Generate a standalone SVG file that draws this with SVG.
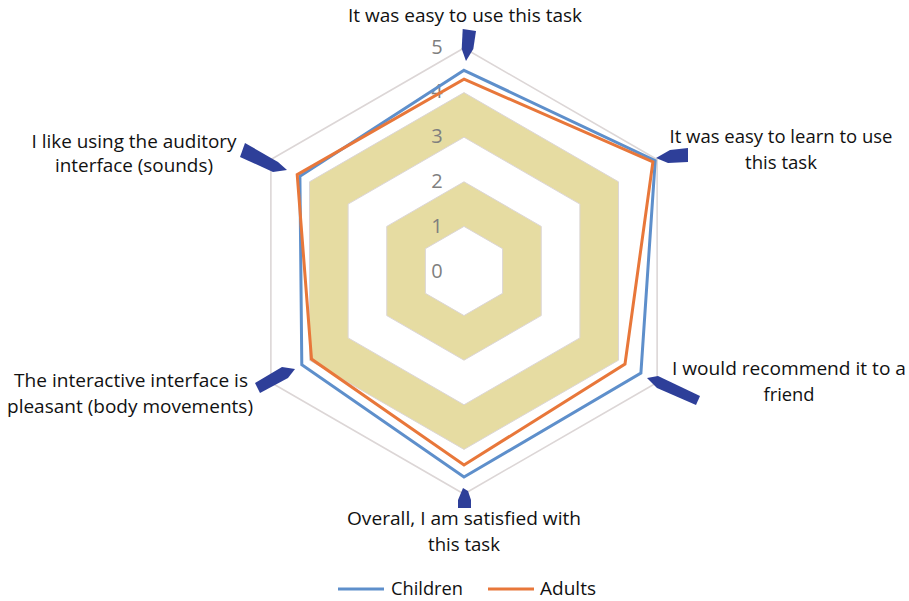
<svg xmlns="http://www.w3.org/2000/svg" width="909" height="601" viewBox="0 0 909 601">
<style>
.lbl{font-family:"Open Sans","Noto Sans","Liberation Sans",sans-serif;font-size:19px;fill:#111111;text-anchor:middle}
.num{font-family:"Open Sans","Noto Sans","Liberation Sans",sans-serif;font-size:20px;fill:#7f7f7f;text-anchor:middle}
.grid{fill:none;stroke:#dcd6d6;stroke-width:1}
.ptr{fill:#2e3f99;stroke:none}
.ser{fill:none;stroke-width:3;stroke-linejoin:miter}
</style>
<rect width="909" height="601" fill="#ffffff"/>
<g id="bands">
<path fill="#e6dca2" fill-rule="evenodd" d="M464,181.8 L541.25,226.4 L541.25,315.6 L464,360.2 L386.75,315.6 L386.75,226.4 Z M464,226.4 L502.62,248.7 L502.62,293.3 L464,315.6 L425.38,293.3 L425.38,248.7 Z"/>
<path fill="#e6dca2" fill-rule="evenodd" d="M464,92.6 L618.5,181.8 L618.5,360.2 L464,449.4 L309.5,360.2 L309.5,181.8 Z M464,137.2 L579.87,204.1 L579.87,337.9 L464,404.8 L348.13,337.9 L348.13,204.1 Z"/>
</g>
<g id="grid">
<polygon class="grid" points="464,226.4 502.62,248.7 502.62,293.3 464,315.6 425.38,293.3 425.38,248.7"/>
<polygon class="grid" points="464,181.8 541.25,226.4 541.25,315.6 464,360.2 386.75,315.6 386.75,226.4"/>
<polygon class="grid" points="464,137.2 579.87,204.1 579.87,337.9 464,404.8 348.13,337.9 348.13,204.1"/>
<polygon class="grid" points="464,92.6 618.5,181.8 618.5,360.2 464,449.4 309.5,360.2 309.5,181.8"/>
<polygon class="grid" style="stroke-width:1.6" points="464,48 657.12,159.5 657.12,382.5 464,494 270.88,382.5 270.88,159.5"/>
</g>
<g id="scale">
<text class="num" x="437" y="278">0</text>
<text class="num" x="437" y="233">1</text>
<text class="num" x="437" y="188">2</text>
<text class="num" x="437" y="143">3</text>
<text class="num" x="437" y="98">4</text>
<text class="num" x="437" y="54">5</text>
</g>
<g id="connectors">
<polygon id="children" class="ser" stroke="#5e8fcb" points="464,70.3 655.2,160.6 640.9,373.1 464,477 301.8,364.7 299.9,176.2"/>
<polygon id="adults" class="ser" stroke="#e8773a" points="464,79.2 652.9,162 625,364 464,465 311.5,359.1 297.2,174.7"/>
</g>
<g id="axis-top">
<polygon class="ptr" points="462.7,29 476,31 473.3,49 466,61 461.7,49"/>
<text class="lbl" x="465" y="22" textLength="234" lengthAdjust="spacingAndGlyphs">It was easy to use this task</text>
</g>
<g id="axis-upper-right">
<polygon class="ptr" points="656,158 670,150 688,148 688,162 668,163"/>
<text class="lbl" x="781" y="143" textLength="223" lengthAdjust="spacingAndGlyphs">It was easy to learn to use</text>
<text class="lbl" x="781" y="169" textLength="72" lengthAdjust="spacingAndGlyphs">this task</text>
</g>
<g id="axis-lower-right">
<polygon class="ptr" points="647,378 658,376 700,396 696,405 657,388"/>
<text class="lbl" x="789" y="375" textLength="234" lengthAdjust="spacingAndGlyphs">I would recommend it to a</text>
<text class="lbl" x="789" y="401" textLength="51" lengthAdjust="spacingAndGlyphs">friend</text>
</g>
<g id="axis-bottom">
<polygon class="ptr" points="463,488 468,491 471,500 471,508 458,508 458,500"/>
<text class="lbl" x="464" y="525" textLength="234" lengthAdjust="spacingAndGlyphs">Overall, I am satisfied with</text>
<text class="lbl" x="464" y="551" textLength="72" lengthAdjust="spacingAndGlyphs">this task</text>
</g>
<g id="axis-lower-left">
<polygon class="ptr" points="295,369 288,378 260,393 255,383 282,367"/>
<text class="lbl" x="131" y="387" textLength="234" lengthAdjust="spacingAndGlyphs">The interactive interface is</text>
<text class="lbl" x="130" y="413" textLength="246" lengthAdjust="spacingAndGlyphs">pleasant (body movements)</text>
</g>
<g id="axis-upper-left">
<polygon class="ptr" points="245,143 278,162 287,170 273,172 240,157"/>
<text class="lbl" x="134" y="148" textLength="205" lengthAdjust="spacingAndGlyphs">I like using the auditory</text>
<text class="lbl" x="134" y="172" textLength="158" lengthAdjust="spacingAndGlyphs">interface (sounds)</text>
</g>
<g id="legend">
<line x1="338" y1="589" x2="384" y2="589" stroke="#5e8fcb" stroke-width="3"/>
<text class="lbl" x="427" y="595" textLength="72" lengthAdjust="spacingAndGlyphs">Children</text>
<line x1="488" y1="589" x2="534" y2="589" stroke="#e8773a" stroke-width="3"/>
<text class="lbl" x="568" y="595" textLength="56" lengthAdjust="spacingAndGlyphs">Adults</text>
</g>
</svg>
